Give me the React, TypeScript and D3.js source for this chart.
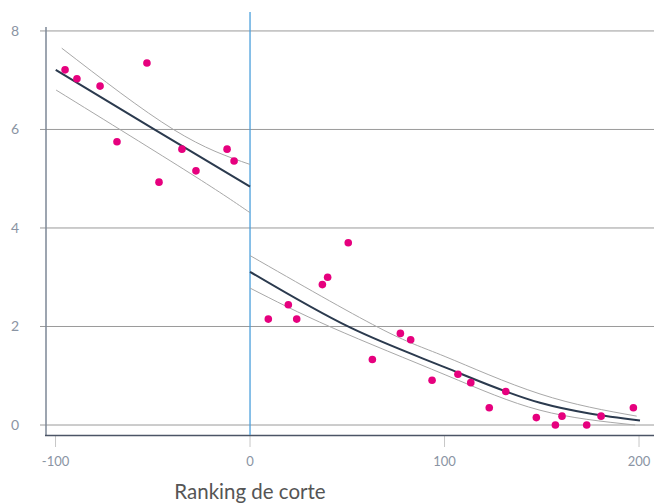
import React from "react";
import * as d3 from "d3";

type P = [number, number];

const yTicks = [0, 2, 4, 6, 8];
const xTicks = [-100, 0, 100, 200];
const xTickLabels = ["-100", "0", "100", "200"];
const xTitle = "Ranking de corte";

const pointsLeft: P[] = [
  [-95.1, 7.21], [-89.0, 7.03], [-77.1, 6.88], [-68.4, 5.75], [-53.0, 7.35],
  [-46.8, 4.93], [-35.0, 5.60], [-27.8, 5.16], [-11.8, 5.60], [-8.2, 5.36],
];
const pointsRight: P[] = [
  [9.4, 2.15], [19.7, 2.44], [24.0, 2.15], [37.2, 2.85], [39.9, 3.0],
  [50.5, 3.70], [62.9, 1.33], [77.3, 1.86], [82.6, 1.73], [93.6, 0.91],
  [106.9, 1.03], [113.5, 0.86], [123.0, 0.35], [131.5, 0.68], [147.2, 0.15],
  [157.0, 0.0], [160.4, 0.18], [173.1, 0.0], [180.5, 0.18], [197.1, 0.35],
];

const fitLeft: P[] = [[-99.9, 7.21], [-48.8, 5.99], [0, 4.84]];
const upperLeft: P[] = [[-96.8, 7.65], [-39.4, 6.0], [0, 5.29]];
const lowerLeft: P[] = [[-99.7, 6.8], [-30.8, 5.11], [0, 4.31]];

const fitRight: P[] = [[0, 3.11], [51.4, 1.98], [100.3, 1.17], [149.1, 0.45], [200.5, 0.09]];
const upperRight: P[] = [[0, 3.44], [66, 1.98], [100.3, 1.39], [149.1, 0.63], [198.8, 0.18]];
const lowerRight: P[] = [[0, 2.78], [42, 1.98], [100.3, 1.02], [149.1, 0.3], [198, 0.0]];

const W = 654;
const H = 503;

export default function App() {
  const x = d3.scaleLinear().domain([-104.9, 207.7]).range([46, 654]);
  const y = d3.scaleLinear().domain([-0.203, 8.08]).range([435, 27]);
  const line = d3
    .line<P>()
    .x((d) => x(d[0]))
    .y((d) => y(d[1]))
    .curve(d3.curveNatural);

  const font = "Lato, 'Open Sans', sans-serif";
  const labelColor = "#8a94a3";

  return (
    <svg
      width={W}
      height={H}
      style={{ position: "absolute", left: 0, top: 0, background: "#fff" }}
    >
      {yTicks.map((t) => (
        <line key={"g" + t} x1={40} x2={W} y1={y(t)} y2={y(t)} stroke="#9a9a9a" strokeWidth={1} />
      ))}
      {yTicks.map((t) => (
        <text
          key={"yl" + t}
          x={19}
          y={y(t) + 5}
          textAnchor="end"
          fontFamily={font}
          fontSize={14}
          fill={labelColor}
        >
          {t}
        </text>
      ))}
      {xTicks.map((t, i) => (
        <g key={"xt" + t}>
          <line x1={x(t)} x2={x(t)} y1={436} y2={447} stroke="#c8c8c8" strokeWidth={1} />
          <text
            x={x(t)}
            y={466}
            textAnchor="middle"
            fontFamily={font}
            fontSize={13}
            fill={labelColor}
          >
            {xTickLabels[i]}
          </text>
        </g>
      ))}
      <line x1={46} x2={46} y1={27} y2={436} stroke="#7d8796" strokeWidth={1.5} />
      <line x1={45} x2={W} y1={435.5} y2={435.5} stroke="#4b5566" strokeWidth={1.5} />
      <line x1={x(0)} x2={x(0)} y1={12} y2={435} stroke="#4a9fdc" strokeWidth={1.3} />
      {[upperLeft, lowerLeft, upperRight, lowerRight].map((d, i) => (
        <path key={"ci" + i} d={line(d) || ""} fill="none" stroke="#a8a8a8" strokeWidth={1} />
      ))}
      {[fitLeft, fitRight].map((d, i) => (
        <path key={"f" + i} d={line(d) || ""} fill="none" stroke="#2b3a4e" strokeWidth={2} />
      ))}
      {[...pointsLeft, ...pointsRight].map((d, i) => (
        <circle key={"p" + i} cx={x(d[0])} cy={y(d[1])} r={3.8} fill="#e6007e" />
      ))}
      <text
        x={250}
        y={499}
        textAnchor="middle"
        fontFamily={font}
        fontSize={20.5}
        fill="#555"
      >
        {xTitle}
      </text>
    </svg>
  );
}
